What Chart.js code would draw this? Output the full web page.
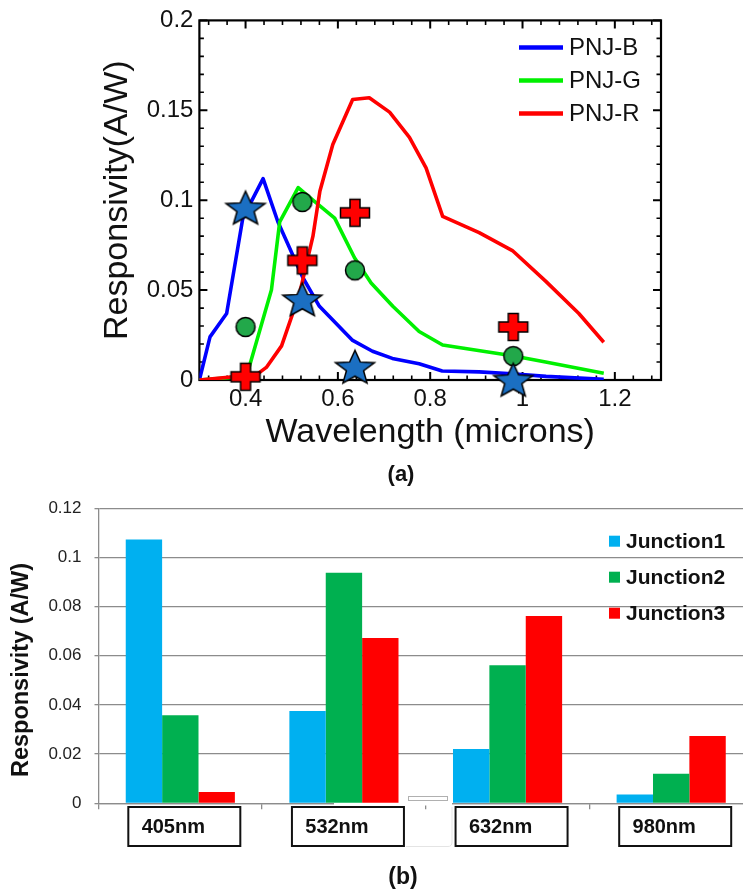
<!DOCTYPE html>
<html>
<head>
<meta charset="utf-8">
<script src="https://cdn.jsdelivr.net/npm/chart.js@4.4.1/dist/chart.umd.min.js"></script>
<style>
html, body { margin: 0; padding: 0; overflow: hidden; background: #fff; }
body { width: 743px; height: 893px; position: relative; font-family: "Liberation Sans", Arial, sans-serif; }
#wrapA { position: absolute; left: 0; top: 0; }
#wrapB { position: absolute; left: 0; top: 485px; }
.lbl { position: absolute; font-weight: bold; color: #111; transform: translate(-50%, -50%); }
</style>
</head>
<body>
<div id="wrapA"><canvas id="graficoA" width="743" height="485"></canvas></div>
<div id="wrapB"><canvas id="graficoB" width="753" height="408"></canvas></div>
<div class="lbl" style="left:401px; top:474px; font-size:22px;">(a)</div>
<div class="lbl" style="left:403px; top:876px; font-size:23px;">(b)</div>

<script>
// (a) curvas simuladas: comprimento de onda (microns) e responsividade (A/W)
const wlB = [0.30, 0.323, 0.359, 0.394, 0.438, 0.47, 0.524, 0.56, 0.632, 0.675, 0.718, 0.776, 0.826, 0.906, 0.977, 1.051, 1.176];
const respB = [0, 0.024, 0.037, 0.09, 0.112, 0.088, 0.057, 0.041, 0.022, 0.016, 0.012, 0.009, 0.005, 0.0045, 0.0035, 0.002, 0.0004];
const wlG = [0.30, 0.402, 0.456, 0.474, 0.514, 0.546, 0.593, 0.636, 0.672, 0.719, 0.776, 0.827, 0.978, 1.05, 1.176];
const respG = [0, 0.002, 0.05, 0.088, 0.107, 0.100, 0.090, 0.068, 0.054, 0.041, 0.027, 0.0195, 0.0135, 0.010, 0.0037];
const wlR = [0.30, 0.424, 0.445, 0.478, 0.517, 0.546, 0.561, 0.589, 0.632, 0.668, 0.712, 0.755, 0.791, 0.827, 0.906, 0.978, 1.05, 1.122, 1.176];
const respR = [0, 0.003, 0.007, 0.019, 0.048, 0.080, 0.105, 0.131, 0.156, 0.157, 0.149, 0.135, 0.118, 0.091, 0.082, 0.072, 0.055, 0.037, 0.021];

// (a) pontos medidos (405, 532, 632, 980 nm)
const wlMeas = [0.4, 0.523, 0.637, 0.98];
const measStar = [0.096, 0.045, 0.0075, 0.0003];
const measCircle = [0.0295, 0.099, 0.061, 0.0133];
const measCross = [0.0018, 0.0665, 0.093, 0.0295];

// (a) eixos
const xMajorA = [0.4, 0.6, 0.8, 1, 1.2];
const yMajorA = [0, 0.05, 0.1, 0.15, 0.2];
const xMinorStepA = 0.04;
const yMinorStepA = 0.01;

// (b) barras
const laserLabels = ['405nm', '532nm', '632nm', '980nm'];
const junction1 = [0.1073, 0.0375, 0.0221, 0.0036];
const junction2 = [0.0358, 0.0938, 0.0561, 0.012];
const junction3 = [0.0046, 0.0672, 0.0762, 0.0274];
const yTicksB = [0, 0.02, 0.04, 0.06, 0.08, 0.1, 0.12];

const FONT = '"Liberation Sans", Arial, sans-serif';
Chart.defaults.font.family = FONT;

function tickList(from, to, step) {
    const out = [];
    for (let i = 0; from + i * step <= to + 1e-9; i++) out.push(+(from + i * step).toFixed(4));
    return out;
}
function isIn(list, v) { return list.some(m => Math.abs(m - v) < 1e-6); }
function fmt(v) { return String(+Number(v).toFixed(3)); }
function pts(xs, ys) { return xs.map((x, i) => ({ x: x, y: ys[i] })); }

//marcadores desenhados num canvas auxiliar
function makeMarker(kind) {
    const c = document.createElement('canvas');
    c.width = 46; c.height = 46;
    const g = c.getContext('2d');
    g.translate(23, 23);
    g.lineWidth = 1.5;
    g.strokeStyle = '#000';
    g.beginPath();
    if (kind === 'star') {
        const R = 20.5, r = 9;
        for (let i = 0; i < 10; i++) {
            const a = -Math.PI / 2 + i * Math.PI / 5;
            const rr = i % 2 ? r : R;
            g.lineTo(rr * Math.cos(a), rr * Math.sin(a) * 0.88 + 1.8);
        }
        g.closePath();
        g.fillStyle = '#1b6fc2';
    } else if (kind === 'cross') {
        const L = 14.5, H = 13.5, a = 5;
        const p = [[-a, -H], [a, -H], [a, -a], [L, -a], [L, a], [a, a], [a, H], [-a, H], [-a, a], [-L, a], [-L, -a], [-a, -a]];
        p.forEach(q => g.lineTo(q[0], q[1]));
        g.closePath();
        g.fillStyle = '#ff0000';
    } else {
        g.arc(0, 0, 9.5, 0, Math.PI * 2);
        g.fillStyle = '#22a84a';
    }
    g.fill();
    g.stroke();
    return c;
}

//moldura e marcas para dentro no gráfico (a)
const frameA = {
    id: 'frameA',
    beforeDatasetsDraw(chart) {
        const { ctx, chartArea: a, scales: { x, y } } = chart;
        ctx.save();
        ctx.strokeStyle = '#000';
        x.ticks.forEach(t => {
            const px = x.getPixelForValue(t.value);
            const major = isIn(xMajorA, t.value);
            const len = major ? 8 : 4.5;
            ctx.lineWidth = major ? 2 : 1.6;
            ctx.beginPath();
            ctx.moveTo(px, a.bottom); ctx.lineTo(px, a.bottom - len);
            ctx.moveTo(px, a.top); ctx.lineTo(px, a.top + len);
            ctx.stroke();
        });
        y.ticks.forEach(t => {
            const py = y.getPixelForValue(t.value);
            const major = isIn(yMajorA, t.value);
            const len = major ? 8 : 4.5;
            ctx.lineWidth = major ? 2 : 1.6;
            ctx.beginPath();
            ctx.moveTo(a.left, py); ctx.lineTo(a.left + len, py);
            ctx.moveTo(a.right, py); ctx.lineTo(a.right - len, py);
            ctx.stroke();
        });
        ctx.lineWidth = 2.2;
        ctx.strokeRect(a.left, a.top, a.right - a.left, a.bottom - a.top);
        ctx.restore();
    }
};

const curveLabels = ['PNJ-B', 'PNJ-G', 'PNJ-R'];
const legendA = {
    id: 'legendA',
    afterDraw(chart) {
        const { ctx, chartArea: a } = chart;
        const items = chart.data.datasets.filter(d => curveLabels.includes(d.label));
        ctx.save();
        ctx.font = '24px ' + FONT;
        ctx.textBaseline = 'middle';
        ctx.fillStyle = '#111';
        items.forEach((d, i) => {
            const yy = a.top + 27 + i * 33;
            ctx.strokeStyle = d.borderColor;
            ctx.lineWidth = 4.5;
            ctx.beginPath();
            ctx.moveTo(a.right - 142, yy); ctx.lineTo(a.right - 98, yy);
            ctx.stroke();
            ctx.fillText(d.label, a.right - 92, yy + 1);
        });
        ctx.restore();
    }
};

const lineStyle = { showLine: true, pointRadius: 0, borderWidth: 3.6, fill: false, tension: 0, borderJoinStyle: 'round' };
const markStyle = { showLine: false, pointRadius: 10, clip: false, order: 0 };

new Chart(document.getElementById('graficoA').getContext('2d'), {
    type: 'line',
    data: {
        datasets: [
            Object.assign({ label: 'PNJ-B', data: pts(wlB, respB), borderColor: '#0000ff', order: 3 }, lineStyle),
            Object.assign({ label: 'PNJ-G', data: pts(wlG, respG), borderColor: '#00f000', order: 2 }, lineStyle),
            Object.assign({ label: 'PNJ-R', data: pts(wlR, respR), borderColor: '#ff0000', order: 1 }, lineStyle),
            Object.assign({ label: 'Medido J1', data: pts(wlMeas, measStar), pointStyle: makeMarker('star') }, markStyle),
            Object.assign({ label: 'Medido J2', data: pts(wlMeas, measCircle), pointStyle: makeMarker('circle') }, markStyle),
            Object.assign({ label: 'Medido J3', data: pts(wlMeas, measCross), pointStyle: makeMarker('cross') }, markStyle)
        ]
    },
    options: {
        responsive: false,
        animation: false,
        layout: { padding: { top: 19, right: 82, left: 0, bottom: 0 } },
        plugins: { legend: { display: false }, tooltip: { enabled: false } },
        scales: {
            x: {
                type: 'linear', min: 0.3, max: 1.3,
                afterBuildTicks: s => { s.ticks = tickList(0.32, 1.28, xMinorStepA).map(v => ({ value: v })); },
                afterFit: s => { s.height = 105; },
                grid: { display: false, drawTicks: false },
                border: { display: false },
                ticks: {
                    autoSkip: false, maxRotation: 0, padding: 4.6, color: '#111',
                    font: { size: 24 },
                    callback: v => isIn(xMajorA, v) ? fmt(v) : ''
                },
                title: { display: true, text: 'Wavelength (microns)', color: '#111', font: { size: 34 }, padding: { top: 0, bottom: 31.6 } }
            },
            y: {
                type: 'linear', min: 0, max: 0.2,
                afterBuildTicks: s => { s.ticks = tickList(0, 0.2, yMinorStepA).map(v => ({ value: v })); },
                afterFit: s => { s.width = 199.4; },
                grid: { display: false, drawTicks: false },
                border: { display: false },
                ticks: {
                    autoSkip: false, padding: 6, color: '#111',
                    font: { size: 24 },
                    callback: v => isIn(yMajorA, v) ? fmt(v) : ''
                },
                title: { display: true, text: 'Responsivity(A/W)', color: '#111', font: { size: 34 }, padding: { top: 97.6, bottom: 0 } }
            }
        }
    },
    plugins: [frameA, legendA]
});

//caixas dos rótulos do eixo x no gráfico (b)
const labelBoxes = {
    id: 'labelBoxes',
    beforeDraw(chart) {
        const { ctx, scales: { x } } = chart;
        ctx.save();
        ctx.fillStyle = '#fff';
        ctx.strokeStyle = '#111';
        ctx.lineWidth = 2;
        laserLabels.forEach((l, i) => {
            const c = x.getPixelForValue(i);
            ctx.fillRect(c - 52, 322, 112, 39);
            ctx.strokeRect(c - 52, 322, 112, 39);
        });
        ctx.restore();
    },
    //pequeno remendo branco sobre o eixo, como no original (fica por baixo das barras)
    beforeDatasetsDraw(chart) {
        const { ctx } = chart;
        ctx.save();
        ctx.fillStyle = '#fff';
        ctx.fillRect(334, 313.5, 118, 7);
        ctx.strokeStyle = '#e4e4e4';
        ctx.lineWidth = 1;
        ctx.beginPath();
        ctx.moveTo(406, 361.5); ctx.lineTo(448, 361.5);
        ctx.quadraticCurveTo(452, 361.5, 452, 357);
        ctx.lineTo(452, 322);
        ctx.stroke();
        ctx.strokeStyle = '#b0b0b0';
        ctx.strokeRect(408.5, 311.5, 39, 4);
        ctx.restore();
    }
};

const legendB = {
    id: 'legendB',
    afterDraw(chart) {
        const { ctx, chartArea: a } = chart;
        ctx.save();
        ctx.font = 'bold 21px ' + FONT;
        ctx.textBaseline = 'middle';
        chart.data.datasets.forEach((d, i) => {
            const yy = a.top + 33 + i * 36;
            ctx.fillStyle = d.backgroundColor;
            ctx.fillRect(a.left + 510.5, yy - 5.5, 11, 11);
            ctx.fillStyle = '#111';
            ctx.fillText(d.label, a.left + 527.5, yy + 1);
        });
        //título do eixo y
        ctx.translate(22, 185);
        ctx.rotate(-Math.PI / 2);
        ctx.textAlign = 'center';
        ctx.font = 'bold 23.5px ' + FONT;
        ctx.fillText('Responsivity (A/W)', 0, 0);
        ctx.restore();
    }
};

new Chart(document.getElementById('graficoB').getContext('2d'), {
    type: 'bar',
    data: {
        labels: laserLabels,
        datasets: [
            { label: 'Junction1', data: junction1, backgroundColor: '#00b0f0' },
            { label: 'Junction2', data: junction2, backgroundColor: '#00b050' },
            { label: 'Junction3', data: junction3, backgroundColor: '#ff0000' }
        ]
    },
    options: {
        responsive: false,
        animation: false,
        layout: { padding: { top: 16, right: 0, left: 0, bottom: 0 } },
        datasets: { bar: { categoryPercentage: 0.667, barPercentage: 1.0, borderWidth: 0 } },
        plugins: { legend: { display: false }, tooltip: { enabled: false } },
        scales: {
            x: {
                afterFit: s => { s.height = 89.7; },
                grid: { drawOnChartArea: false, tickLength: 6, color: '#8c8c8c', lineWidth: 1.3 },
                border: { color: '#8c8c8c', width: 1.3 },
                ticks: { labelOffset: -7, padding: 5.7, color: '#111', maxRotation: 0, font: { weight: 'bold', size: 20 } }
            },
            y: {
                min: 0, max: 0.12,
                afterBuildTicks: s => { s.ticks = yTicksB.map(v => ({ value: v })); },
                afterFit: s => { s.width = 98.5; },
                grid: { color: '#8c8c8c', lineWidth: 1.3, tickLength: 4 },
                border: { color: '#8c8c8c', width: 1.3 },
                ticks: { padding: 13, color: '#222', font: { size: 17 }, callback: v => fmt(v) }
            }
        }
    },
    plugins: [labelBoxes, legendB]
});
</script>
</body>
</html>
